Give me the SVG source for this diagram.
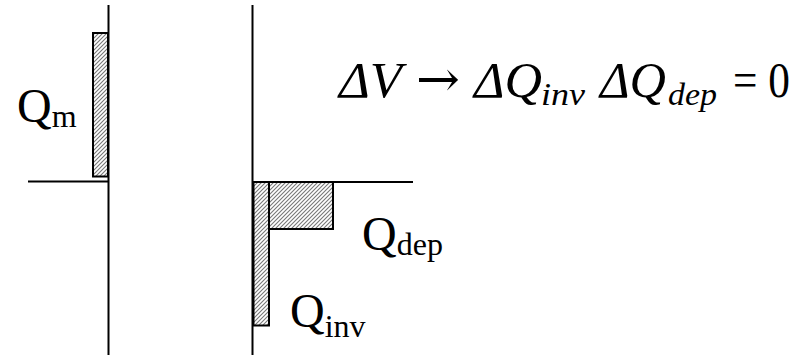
<svg xmlns="http://www.w3.org/2000/svg" width="807" height="356" viewBox="0 0 807 356">
<style>
.ax{stroke:#000;stroke-width:2;fill:none}
.bar{stroke:#000;stroke-width:2;fill:url(#hatch)}
.t{font-family:'Liberation Serif','Times New Roman',serif;fill:#000}
.it{font-style:italic}
.arr{font-family:'DejaVu Serif',serif;fill:#000}
</style>
<defs>
<pattern id="hatch" patternUnits="userSpaceOnUse" width="4" height="4">
<rect width="4" height="4" fill="#fff"/>
<path d="M-1,1 l2,-2 M0,4 l4,-4 M3,5 l2,-2" stroke="#777" stroke-width="1.1"/>
</pattern>
</defs>
<g id="axes">
<line class="ax" x1="108.5" y1="5" x2="108.5" y2="355"/>
<line class="ax" x1="28" y1="181.5" x2="108.5" y2="181.5"/>
<line class="ax" x1="252.5" y1="5" x2="252.5" y2="355"/>
<line class="ax" x1="252.5" y1="182" x2="413" y2="182"/>
</g>
<g id="Qm">
<rect class="bar" x="93" y="33" width="15" height="143.5"/>
<text class="t" x="17" y="122" font-size="48">Q<tspan font-size="32" dy="5">m</tspan></text>
</g>
<g id="Qinv">
<rect class="bar" x="253.5" y="182" width="15.5" height="143.5"/>
<text class="t" x="290" y="327" font-size="48">Q<tspan font-size="32" dy="10">inv</tspan></text>
</g>
<g id="Qdep">
<rect class="bar" x="269" y="182" width="64" height="47"/>
<text class="t" x="362" y="250" font-size="48">Q<tspan font-size="32" dy="5">dep</tspan></text>
</g>
<g id="equation">
<text class="t it" font-size="50" x="339" y="97" textLength="63" lengthAdjust="spacingAndGlyphs">ΔV</text>
<text class="arr" font-size="50" x="416" y="96" textLength="44" lengthAdjust="spacingAndGlyphs">→</text>
<text class="t it" font-size="50" x="474" y="97" textLength="68" lengthAdjust="spacingAndGlyphs">ΔQ</text>
<text class="t it" font-size="32" x="541" y="105" textLength="44" lengthAdjust="spacingAndGlyphs">inv</text>
<text class="t it" font-size="50" x="600" y="97" textLength="66" lengthAdjust="spacingAndGlyphs">ΔQ</text>
<text class="t it" font-size="32" x="668" y="105" textLength="49" lengthAdjust="spacingAndGlyphs">dep</text>
<text class="t" font-size="50" x="733" y="97" textLength="57" lengthAdjust="spacingAndGlyphs">= 0</text>
</g>
</svg>
